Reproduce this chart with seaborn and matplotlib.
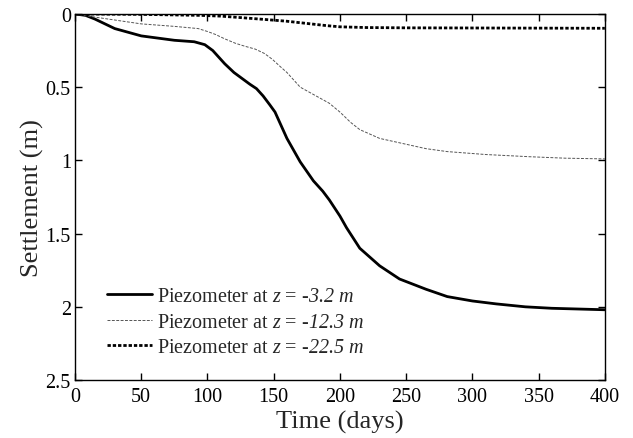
import matplotlib
matplotlib.use("Agg")
import matplotlib.pyplot as plt
import seaborn as sns
import pandas as pd

# Series: settlement (m) vs time (days)
t1 = [0, 8, 15, 30, 50, 75, 90, 98, 104, 109, 113, 120, 126, 132, 137, 142, 147, 151, 160, 170, 180, 187, 192, 200, 205, 215, 230, 245, 265, 281, 300, 318, 340, 360, 380, 400]
s1 = [0, 0.01, 0.035, 0.10, 0.15, 0.18, 0.19, 0.21, 0.25, 0.30, 0.34, 0.40, 0.44, 0.48, 0.51, 0.56, 0.62, 0.67, 0.85, 1.01, 1.14, 1.21, 1.27, 1.38, 1.46, 1.60, 1.72, 1.81, 1.88, 1.93, 1.96, 1.98, 2.00, 2.01, 2.015, 2.02]

t2 = [0, 10, 25, 50, 75, 93, 100, 106, 113, 121, 128, 136, 143, 149, 155, 160, 170, 182, 192, 200, 208, 215, 230, 245, 265, 281, 310, 343, 370, 400]
s2 = [0, 0.015, 0.035, 0.068, 0.085, 0.10, 0.12, 0.14, 0.17, 0.20, 0.22, 0.24, 0.27, 0.31, 0.36, 0.40, 0.50, 0.56, 0.61, 0.67, 0.74, 0.79, 0.85, 0.88, 0.92, 0.94, 0.96, 0.975, 0.985, 0.99]

t3 = [0, 50, 95, 110, 125, 145, 160, 175, 190, 200, 220, 250, 300, 350, 400]
s3 = [0, 0.003, 0.01, 0.015, 0.025, 0.039, 0.05, 0.065, 0.08, 0.088, 0.093, 0.095, 0.096, 0.097, 0.098]

labels = ["Piezometer at $\\mathrm{z}$ = $\\mathrm{\u20103.2\\ m}$",
          "Piezometer at $\\mathrm{z}$ = $\\mathrm{\u201012.3\\ m}$",
          "Piezometer at $\\mathrm{z}$ = $\\mathrm{\u201022.5\\ m}$"]

x_ticks = [0, 50, 100, 150, 200, 250, 300, 350, 400]
y_ticks = [0, 0.5, 1, 1.5, 2, 2.5]
y_tick_labels = ["0", "0.5", "1", "1.5", "2", "2.5"]

sns.set_style("ticks")
plt.rcParams['font.family'] = ['Liberation Serif', 'DejaVu Serif']
plt.rcParams['mathtext.fontset'] = 'custom'
plt.rcParams['mathtext.rm'] = 'Liberation Serif:italic'
plt.rcParams['mathtext.it'] = 'Liberation Serif:italic'

fig = plt.figure(figsize=(6.33, 4.39), dpi=100)
ax = fig.add_axes([0.1185, 0.132, 0.837, 0.834])

df1 = pd.DataFrame({"t": t1, "s": s1})
df2 = pd.DataFrame({"t": t2, "s": s2})
df3 = pd.DataFrame({"t": t3, "s": s3})

sns.lineplot(data=df1, x="t", y="s", ax=ax, color="black", lw=2.0, ls="-", label=labels[0])
sns.lineplot(data=df2, x="t", y="s", ax=ax, color="#555555", lw=0.7, ls=(0, (3, 1.5)), label=labels[1])
sns.lineplot(data=df3, x="t", y="s", ax=ax, color="black", lw=2.0, ls=(0, (1.2, 0.7)), label=labels[2])

ax.set_xlim(0, 400)
ax.set_ylim(2.5, 0)
ax.set_xticks(x_ticks)
ax.set_yticks(y_ticks)
ax.set_yticklabels(y_tick_labels)
ax.tick_params(direction="in", top=True, right=True, labelsize=14.5, length=5, width=1, colors="black")
ax.tick_params(axis="x", pad=5)
ax.tick_params(axis="y", pad=3)
for sp in ax.spines.values():
    sp.set_visible(True)
    sp.set_linewidth(1.0)
    sp.set_color("black")
ax.set_xlabel("Time (days)", fontsize=19, labelpad=3)
ax.set_ylabel("Settlement (m)", fontsize=19, labelpad=1)
ax.legend(loc="lower left", bbox_to_anchor=(0.06, 0.063), frameon=False, fontsize=14.5,
          handlelength=2.25, handletextpad=0.25, labelspacing=0.31, borderaxespad=0, borderpad=0)
fig.savefig("out.png", dpi=100)
